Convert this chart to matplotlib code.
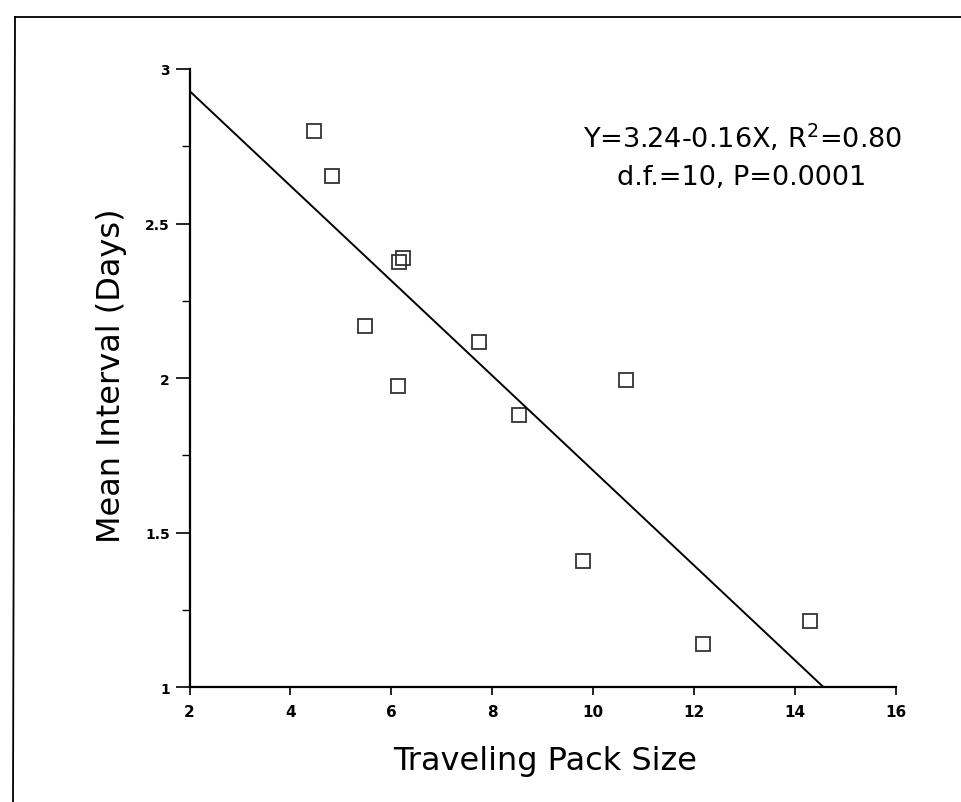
import numpy as np
import matplotlib
matplotlib.use("Agg")
import matplotlib.pyplot as plt
from matplotlib.lines import Line2D
from matplotlib.ticker import MultipleLocator

# data
pack_size = [4.46, 4.83, 6.16, 6.24, 5.47, 7.73, 6.14, 8.53, 10.64, 9.80, 12.18, 14.30]
mean_interval = [2.80, 2.655, 2.377, 2.388, 2.168, 2.118, 1.973, 1.881, 1.995, 1.410, 1.140, 1.214]

# regression line as drawn
intercept = 3.236
slope = -0.1535
line_x = [2.0, 14.57]

x_ticks = [2, 4, 6, 8, 10, 12, 14, 16]
y_ticks = [1, 1.5, 2, 2.5, 3]
y_tick_labels = ["1", "1.5", "2", "2.5", "3"]

W, H = 961, 803
fig = plt.figure(figsize=(W / 100, H / 100), dpi=100)
ax = fig.add_axes([189.5 / W, 1 - 688.3 / H, (896 - 189.5) / W, (688.3 - 70) / H])

ax.plot(pack_size, mean_interval, linestyle="none", marker="s", markersize=10,
        markerfacecolor="none", markeredgecolor="#333333", markeredgewidth=1.3)
lx = np.array(line_x)
ax.plot(lx, intercept + slope * lx, color="black", lw=1.4, solid_capstyle="butt")

ax.set_xlim(2, 16)
ax.set_ylim(1, 3)
ax.spines["top"].set_visible(False)
ax.spines["right"].set_visible(False)
for s in ("left", "bottom"):
    ax.spines[s].set_linewidth(1.6)

ax.set_xticks(x_ticks)
ax.set_xticklabels([str(t) for t in x_ticks], fontsize=11, fontweight="bold")
ax.set_yticks(y_ticks)
ax.set_yticklabels(y_tick_labels, fontsize=10, fontweight="bold")
ax.yaxis.set_minor_locator(MultipleLocator(0.25))
ax.tick_params(axis="x", direction="out", length=6, width=1.2, pad=6)
ax.tick_params(axis="y", which="major", direction="out", length=10, width=1.2, pad=4)
ax.tick_params(axis="y", which="minor", direction="out", length=6, width=1.0)

fig.text(545 / W, 1 - 770 / H, "Traveling Pack Size", fontsize=23,
         ha="center", va="baseline")
fig.text(112 / W, 1 - 376 / H, "Mean Interval (Days)", fontsize=23,
         ha="center", va="center", rotation=90)

fig.text(742 / W, 1 - 148 / H, "Y=3.24-0.16X, R$^2$=0.80", fontsize=19.5,
         ha="center", va="baseline")
fig.text(742 / W, 1 - 185 / H, "d.f.=10, P=0.0001", fontsize=19.5,
         ha="center", va="baseline")

# frame lines from the scanned page
fig.add_artist(Line2D([15 / W, 1.0], [1 - 18 / H, 1 - 18 / H], color="black", lw=1.3))
fig.add_artist(Line2D([15 / W, 13 / W], [1 - 18 / H, 0.0], color="black", lw=1.3))

fig.savefig("out.png", dpi=100)
